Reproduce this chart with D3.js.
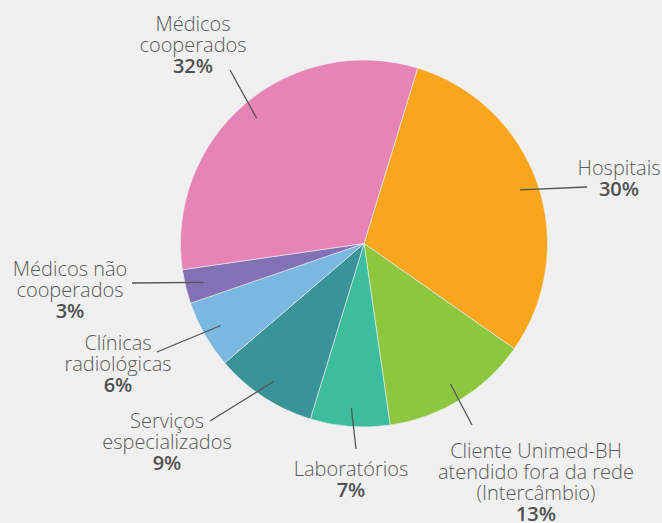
<!DOCTYPE html>
<html>
<head>
<meta charset="utf-8">
<script src="https://cdn.jsdelivr.net/npm/d3@7"></script>
<style>
  html, body { margin: 0; padding: 0; background: #f0f0f0; }
  svg { display: block; }
  .lbl { font-family: "Open Sans", sans-serif; font-size: 20px; font-weight: 300; fill: #5a5a5a; }
  .pct { font-weight: 600; fill: #505050; }
</style>
</head>
<body>
<svg id="chart" width="662" height="523"></svg>
<script>
// data
var categories = ["Hospitais", "Cliente Unimed-BH atendido fora da rede (Intercâmbio)",
  "Laboratórios", "Serviços especializados", "Clínicas radiológicas",
  "Médicos não cooperados", "Médicos cooperados"];
var labelLines = [
  ["Hospitais"],
  ["Cliente Unimed-BH", "atendido fora da rede", "(Intercâmbio)"],
  ["Laboratórios"],
  ["Serviços", "especializados"],
  ["Clínicas", "radiológicas"],
  ["Médicos não", "cooperados"],
  ["Médicos", "cooperados"]
];
var values = [30, 13, 7, 9, 6, 3, 32];
var colors = ["#f9a61c", "#8dc63f", "#3bbd9e", "#3a9399", "#7ab8e2", "#8271b5", "#e684b5"];

// label layout: text centre x, first baseline y, leader line outer end
var labelPos = [
  {x: 619, y: 175, lx: 587, ly: 187},
  {x: 536, y: 458, lx: 472, ly: 425},
  {x: 351, y: 476, lx: 356, ly: 449},
  {x: 167, y: 428, lx: 210, ly: 421},
  {x: 118, y: 350, lx: 157, ly: 352},
  {x: 70, y: 276, lx: 132, ly: 283},
  {x: 193, y: 31, lx: 230, ly: 70}
];

var cx = 364, cy = 243.5, radius = 183.5;
var lineH = 21;
var start = 17 * Math.PI / 180;

var svg = d3.select("#chart");
var g = svg.append("g").attr("transform", "translate(" + cx + "," + cy + ")");

var pie = d3.pie().sort(null).startAngle(start).endAngle(start + 2 * Math.PI);
var arcs = pie(values);
var arc = d3.arc().innerRadius(0).outerRadius(radius);
var inner = d3.arc().innerRadius(165).outerRadius(165);

g.selectAll("path").data(arcs).enter().append("path")
  .attr("d", arc)
  .attr("fill", function(d, i){ return colors[i]; })
  .attr("stroke", "#f0f0f0")
  .attr("stroke-width", 0.6);

//leader lines
g.selectAll("line").data(arcs).enter().append("line")
  .attr("x1", function(d){ return inner.centroid(d)[0]; })
  .attr("y1", function(d){ return inner.centroid(d)[1]; })
  .attr("x2", function(d, i){ return labelPos[i].lx - cx; })
  .attr("y2", function(d, i){ return labelPos[i].ly - cy; })
  .attr("stroke", "#555")
  .attr("stroke-width", 1.3);

//labels
var texts = svg.selectAll("text.lbl").data(categories).enter().append("text")
  .attr("class", "lbl")
  .attr("text-anchor", "middle");
texts.each(function(c, i){
  var t = d3.select(this);
  var lines = labelLines[i];
  lines.forEach(function(s, j){
    t.append("tspan").attr("x", labelPos[i].x).attr("y", labelPos[i].y + j * lineH).text(s);
  });
  t.append("tspan").attr("class", "pct")
    .attr("x", labelPos[i].x).attr("y", labelPos[i].y + lines.length * lineH)
    .text(values[i] + "%");
});
</script>
</body>
</html>
